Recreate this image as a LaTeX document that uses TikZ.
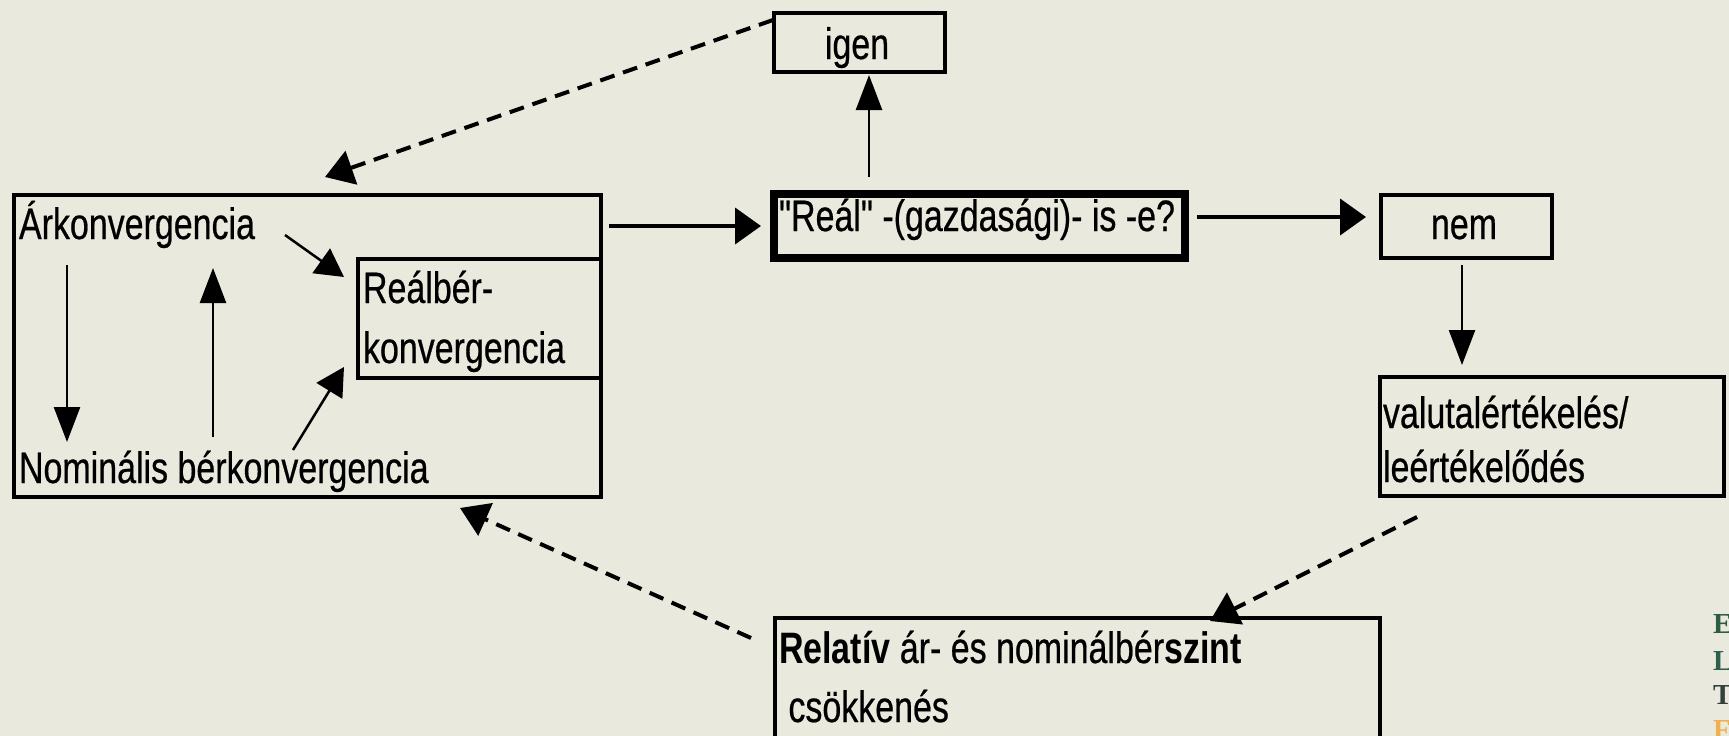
\documentclass[tikz,border=0pt]{standalone}
\usepackage{fontspec}
\setmainfont{Liberation Sans}[FakeStretch=0.772, Ligatures=TeXOff, UprightFeatures={FakeBold=0.5}]
\newfontfamily\logofont{Liberation Serif}
\usetikzlibrary{arrows.meta,calc}
\definecolor{bgc}{RGB}{233,233,221}
\definecolor{logoE}{RGB}{45,92,68}
\definecolor{logoL}{RGB}{45,96,76}
\definecolor{logoT}{RGB}{52,64,58}
\definecolor{logoF}{RGB}{242,176,76}
\tikzset{
  box/.style={draw=black, line width=4.5pt, rectangle, inner sep=0pt, outer sep=0pt},
  thickbox/.style={box, line width=8pt},
  txt/.style={inner sep=0pt, outer sep=0pt, anchor=base west, font=\fontsize{44pt}{53pt}\selectfont},
  ctxt/.style={txt, anchor=base},
  harrow/.style={line width=4pt, -{Triangle[length=26pt,width=36pt]}},
  varrow/.style={line width=2.5pt, -{Triangle[length=35pt,width=26pt]}},
  darrow/.style={line width=2.5pt, -{Triangle[length=28pt,width=30pt]}},
  dasharrow/.style={line width=4pt, dash pattern=on 15pt off 9pt, -{Triangle[length=28pt,width=35pt]}},
  logo/.style={inner sep=0pt, anchor=base west, font=\logofont\bfseries\fontsize{29pt}{30pt}\selectfont}
}
\begin{document}
\begin{tikzpicture}[x=1pt,y=-1pt]
\useasboundingbox (0,0) rectangle (1729,736);
\fill[bgc] (0,0) rectangle (1729,736);
\clip (0,0) rectangle (1729,736);
% boxes
\node[box, minimum width=587pt, minimum height=302pt] (L) at (307.5,346) {};
\node[box, minimum width=243pt, minimum height=119pt] (R) at (479.5,318.5) {};
\node[thickbox, minimum width=411pt, minimum height=64pt] (Q) at (979.5,226) {};
\node[box, minimum width=171pt, minimum height=59pt] (igen) at (859.5,42.5) {};
\node[box, minimum width=171pt, minimum height=63pt] (nem) at (1466.5,226.5) {};
\node[box, minimum width=344pt, minimum height=119pt] (V) at (1552,436.5) {};
\node[box, minimum width=605pt, minimum height=152pt] (B) at (1077.5,694) {};
% texts
\node[txt] (tAr) at (19,239) {Árkonvergencia};
\node[txt] (tNom) at (19,483) {Nominális bérkonvergencia};
\node[txt] (tR1) at (363,303) {Reálbér-};
\node[txt] (tR2) at (363,363) {konvergencia};
\node[txt] (tQ) at (779,231) {"Reál" -(gazdasági)- is -e?};
\node[ctxt] (tIgen) at (857,59) {igen};
\node[ctxt] (tNem) at (1464,239) {nem};
\node[txt] (tV1) at (1383,428) {valutalértékelés/};
\node[txt] (tV2) at (1383,482) {leértékelődés};
\node[txt] (tB1) at (779,663) {\textbf{Relatív} ár- és nominálbér\textbf{szint}};
\node[txt] (tB2) at (779,722) {\ csökkenés};
% logo letters (cut off at the right edge, as in the reference)
\node[logo, text=logoE] (lE) at (1713,633) {E};
\node[logo, text=logoL] (lL) at (1713,670) {L};
\node[logo, text=logoT] (lT) at (1713,704) {T};
\node[logo, text=logoF] (lF) at (1713,739) {F};
% connectors
\draw[harrow] ($(L.east |- Q.west)+(8,0)$) -- ($(Q.west)+(-13,0)$);
\draw[varrow] ($(igen.south |- Q.north)+(9.5,-17)$) -- ($(igen.south)+(9.5,3)$);
\draw[harrow] ($(Q.east)+(12,-9)$) -- ($(nem.west)+(-15,-9.5)$);
\draw[varrow] ($(nem.south)+(-4.5,7)$) -- ($(nem.south |- V.north)+(-4.5,-12)$);
\draw[dasharrow] ($(V.south west)+(37,21)$) -- ($(B.north west)+(435,3)$);
\draw[dasharrow] ($(B.north west)+(-24,20)$) -- ($(L.south)+(152.5,11)$);
\draw[dasharrow] ($(igen.north west)+(-1,7)$) -- ($(L.north)+(17.5,-18)$);
\draw[varrow] ($(L.north west)+(53,70)$) -- ($(L.south west)+(53,-55)$);
\draw[varrow] ($(L.south west)+(199,-60)$) -- ($(L.north west)+(199,73)$);
\draw[darrow] ($(R.north west)+(-73,-24)$) -- ($(R.north west)+(-14,18)$);
\draw[darrow] ($(R.south west)+(-65,72)$) -- ($(R.south west)+(-14,-11)$);
\end{tikzpicture}
\end{document}
